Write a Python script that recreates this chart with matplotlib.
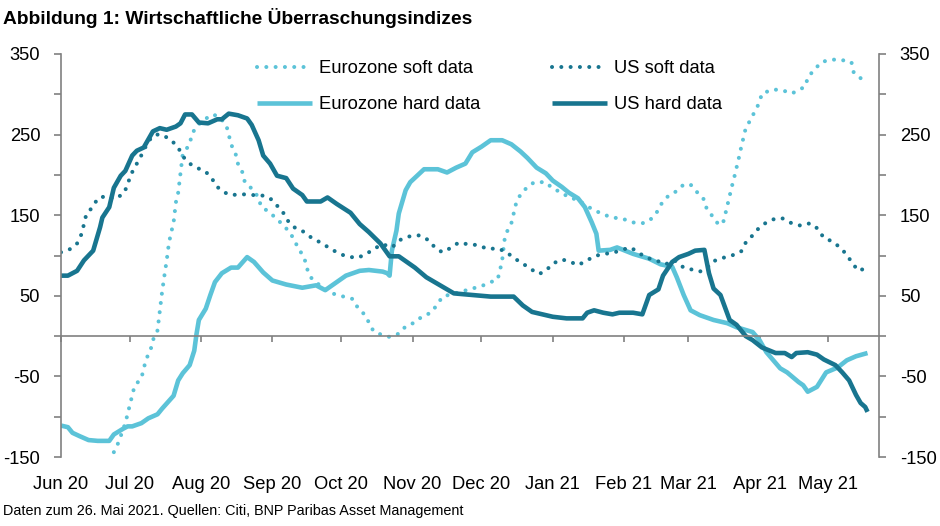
import numpy as np
import pandas as pd
import matplotlib
matplotlib.use("Agg")
import matplotlib.pyplot as plt

plt.rcParams['font.family'] = ['Liberation Sans', 'DejaVu Sans']

# Datum: Tage seit 1. Juni 2020
start = pd.Timestamp("2020-06-01")

ez_soft_days = [23, 25, 28, 30, 32, 35, 37, 39, 40, 42, 43, 44, 45, 46, 47, 48, 49, 50, 51, 52,
                53, 56, 57, 59, 62, 66, 69, 72, 73, 74, 76, 77, 79, 80, 83, 86, 87, 91, 94, 97,
                100, 102, 104, 106, 107, 109, 113, 118, 123, 127, 129, 132, 134, 136, 140, 143, 147, 150, 154, 157,
                161, 164, 166, 170, 174, 179, 183, 187, 190, 191, 192, 193, 194, 196, 197, 198, 200, 203, 206, 211,
                214, 218, 221, 225, 229, 233, 236, 240, 244, 249, 253, 256, 259, 261, 264, 267, 271, 274, 277, 280,
                281, 284, 286, 288, 289, 290, 291, 292, 293, 294, 295, 296, 297, 298, 300, 302, 304, 305, 310, 314,
                318, 321, 324, 325, 328, 331, 335, 339, 344, 345, 348]
ez_soft = [-144, -132, -108, -85, -62, -52, -29, -17, -5, 7, 31, 55, 75, 94, 116, 129, 141, 166, 178, 202,
           226, 238, 251, 260, 268, 275, 272, 261, 250, 238, 226, 214, 203, 191, 183, 172, 161, 153, 145, 137,
           127, 116, 106, 96, 84, 72, 62, 53, 49, 46, 36, 27, 17, 6, 1, -1, 3, 12, 17, 24,
           29, 40, 49, 52, 55, 59, 62, 67, 70, 81, 94, 119, 129, 140, 152, 164, 176, 185, 191, 191,
           183, 178, 172, 169, 161, 155, 151, 147, 146, 141, 140, 143, 152, 163, 173, 178, 188, 188, 178, 169,
           158, 147, 139, 139, 150, 162, 174, 186, 197, 209, 221, 234, 246, 258, 268, 279, 290, 301, 306, 305,
           301, 305, 310, 321, 331, 340, 343, 343, 340, 327, 320]

us_soft_days = [0, 4, 7, 9, 10, 11, 14, 16, 20, 23, 27, 29, 30, 32, 34, 36, 38, 41, 44, 48,
                51, 53, 56, 59, 63, 66, 68, 72, 74, 79, 83, 87, 91, 94, 97, 99, 102, 106, 109, 113,
                117, 120, 124, 129, 133, 136, 140, 144, 148, 152, 156, 160, 163, 166, 170, 173, 177, 181, 186, 190,
                194, 197, 201, 204, 208, 211, 214, 218, 221, 225, 229, 232, 236, 240, 244, 248, 251, 255, 259, 263,
                267, 271, 274, 278, 281, 284, 288, 292, 296, 298, 301, 304, 307, 311, 314, 318, 322, 326, 329, 332,
                336, 339, 342, 344, 347, 351]
us_soft = [104, 108, 115, 127, 139, 151, 161, 171, 174, 170, 176, 187, 198, 209, 219, 230, 242, 250, 250, 243,
           234, 223, 214, 209, 204, 194, 185, 177, 175, 176, 175, 175, 171, 162, 152, 142, 134, 129, 122, 116,
           109, 104, 99, 97, 102, 108, 114, 110, 120, 124, 125, 119, 109, 104, 110, 116, 114, 113, 108, 109,
           104, 97, 90, 84, 77, 81, 90, 95, 93, 88, 94, 99, 102, 103, 107, 110, 104, 97, 94, 89,
           94, 85, 83, 80, 84, 93, 97, 100, 105, 116, 125, 135, 141, 146, 146, 140, 137, 140, 134, 122,
           117, 110, 101, 92, 81, 85]

ez_hard_days = [0, 3, 5, 8, 12, 16, 21, 23, 27, 29, 31, 35, 38, 42, 44, 49, 51, 53, 56, 58,
                59, 60, 63, 65, 67, 70, 74, 77, 81, 84, 88, 92, 98, 105, 111, 115, 119, 124, 130, 134,
                140, 142, 143, 144, 146, 147, 150, 152, 155, 158, 164, 168, 172, 176, 179, 183, 187, 192, 196, 200,
                203, 207, 211, 214, 218, 221, 225, 228, 231, 233, 234, 239, 242, 249, 256, 261, 266, 268, 271, 274,
                278, 284, 290, 294, 301, 304, 307, 313, 316, 321, 323, 325, 329, 333, 338, 342, 346, 351]
ez_hard = [-111, -113, -120, -124, -129, -130, -130, -122, -115, -112, -112, -108, -102, -97, -90, -74, -55, -46, -36, -18,
           3, 20, 34, 51, 67, 78, 85, 85, 98, 92, 79, 69, 64, 60, 63, 57, 65, 75, 81, 82,
           80, 78, 75, 106, 131, 152, 181, 191, 199, 207, 207, 203, 209, 214, 228, 235, 243, 243, 238, 229,
           221, 209, 202, 193, 185, 178, 171, 160, 141, 127, 106, 107, 110, 102, 96, 89, 86, 73, 51, 32,
           26, 20, 16, 11, 5, -5, -20, -40, -45, -57, -61, -69, -63, -45, -39, -30, -25, -21]

us_hard_days = [0, 3, 7, 10, 14, 17, 18, 21, 23, 26, 28, 31, 33, 36, 40, 43, 46, 50, 52, 54,
                57, 60, 64, 68, 70, 73, 77, 81, 83, 86, 88, 91, 94, 98, 101, 105, 107, 113, 116, 120,
                126, 130, 134, 139, 143, 147, 154, 159, 165, 171, 179, 187, 197, 201, 205, 214, 220, 227, 229, 232,
                236, 240, 243, 249, 253, 256, 260, 262, 266, 269, 273, 276, 280, 282, 284, 287, 291, 294, 298, 301,
                305, 311, 315, 318, 320, 325, 329, 332, 337, 340, 343, 346, 348, 350, 351]
us_hard = [75, 75, 81, 94, 106, 135, 147, 160, 184, 199, 205, 224, 230, 234, 254, 258, 256, 260, 264, 275,
           275, 265, 264, 269, 269, 276, 274, 270, 262, 243, 224, 214, 199, 196, 183, 175, 167, 167, 172, 164,
           153, 139, 129, 115, 99, 99, 85, 73, 63, 53, 51, 49, 49, 38, 30, 24, 22, 22, 29, 32,
           29, 27, 29, 29, 27, 51, 58, 75, 92, 98, 102, 106, 107, 78, 59, 51, 20, 14, 0, -5,
           -14, -21, -21, -26, -21, -20, -23, -29, -36, -45, -55, -73, -83, -88, -94]

month_labels = ["Jun 20", "Jul 20", "Aug 20", "Sep 20", "Oct 20", "Nov 20", "Dec 20",
                "Jan 21", "Feb 21", "Mar 21", "Apr 21", "May 21"]
y_ticks = list(range(-150, 351, 50))

light = "#5cc3d8"
dark = "#18758f"
grey = "#808080"


def to_dates(days):
    return start + pd.to_timedelta(days, unit="D")


fig = plt.figure(figsize=(9.4, 5.26), dpi=100)
ax = fig.add_axes([61 / 940, 1 - 457 / 526, (879 - 61) / 940, (457 - 54) / 526])

dot = (0, (0.01, 2.3))
ax.plot(to_dates(ez_soft_days), ez_soft, color=light, lw=2.9, ls=dot,
        dash_capstyle="round", label="Eurozone soft data")
ax.plot(to_dates(ez_hard_days), ez_hard, color=light, lw=3.3,
        solid_capstyle="butt", label="Eurozone hard data")
ax.plot(to_dates(us_soft_days), us_soft, color=dark, lw=2.9, ls=dot,
        dash_capstyle="round", label="US soft data")
ax.plot(to_dates(us_hard_days), us_hard, color=dark, lw=3.3,
        solid_capstyle="butt", label="US hard data")

ax.set_xlim(start, start + pd.Timedelta(days=356))
ax.set_ylim(-150, 350)

# Achsen
ax.spines["top"].set_visible(False)
ax.spines["bottom"].set_position(("data", 0))
for s in ["left", "right", "bottom"]:
    ax.spines[s].set_color(grey)
    ax.spines[s].set_linewidth(1.2)

month_starts = pd.date_range("2020-06-01", periods=12, freq="MS")
ax.set_xticks(month_starts)
ax.set_xticklabels([])
ax.tick_params(axis="x", direction="out", length=4, width=1.2, color=grey)
for d, lab in zip(month_starts, month_labels):
    ax.text(d, -0.047, lab, transform=ax.get_xaxis_transform(), ha="center", va="top", fontsize=13.2)

ax.set_yticks(y_ticks)
ax.set_yticklabels([str(v) if (v + 150) % 100 == 0 else "" for v in y_ticks])
ax.tick_params(axis="y", direction="out", length=5, width=1.2, color=grey,
               left=True, right=True, labelleft=True, labelright=True,
               labelsize=13.2, pad=10)

leg = fig.legend(loc="upper left", bbox_to_anchor=(257 / 940, 1 - 60 / 526), ncol=2,
                 frameon=False, fontsize=13.2, handlelength=3.0, handletextpad=0.4,
                 columnspacing=3.9, labelspacing=1.05, borderpad=0, borderaxespad=0)

fig.text(3 / 940, 1 - 18 / 526, "Abbildung 1: Wirtschaftliche Überraschungsindizes",
         fontsize=13.8, fontweight="bold", va="center", ha="left")
fig.text(3 / 940, 1 - 511 / 526, "Daten zum 26. Mai 2021. Quellen: Citi, BNP Paribas Asset Management",
         fontsize=10.4, va="center", ha="left")

fig.savefig("out.png", dpi=100)
